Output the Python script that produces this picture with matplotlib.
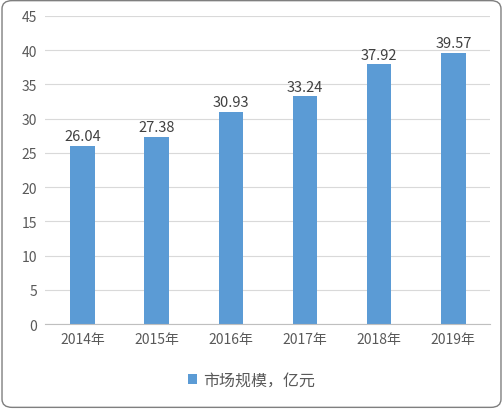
import matplotlib.pyplot as plt
from matplotlib.patches import FancyBboxPatch

plt.rcParams['font.family'] = ['Noto Sans CJK SC', 'DejaVu Sans']

years = ['2014年', '2015年', '2016年', '2017年', '2018年', '2019年']
values = [26.04, 27.38, 30.93, 33.24, 37.92, 39.57]
series_name = '市场规模，亿元'

fig = plt.figure(figsize=(5.03, 4.10), dpi=100)
ax = fig.add_axes([0.09, 0.207, 0.885, 0.752])

ax.bar(range(len(years)), values, width=0.33, color='#5B9BD5', zorder=2, label=series_name)
for i, v in enumerate(values):
    ax.text(i, v + 0.4, f'{v:.2f}', ha='center', va='bottom', fontsize=10.5, color='#404040')

ax.set_ylim(0, 45)
ax.set_yticks(range(0, 46, 5))
ax.set_xlim(-0.5, len(years) - 0.5)
ax.set_xticks(range(len(years)))
ax.set_xticklabels(years)
ax.tick_params(axis='both', length=0, labelsize=10, colors='#595959', pad=6)
ax.grid(axis='y', color='#D9D9D9', lw=0.8, zorder=0)
for s in ['top', 'right', 'left']:
    ax.spines[s].set_visible(False)
ax.spines['bottom'].set_color('#BFBFBF')

fig.legend(loc='lower center', bbox_to_anchor=(0.5, 0.015), frameon=False,
           fontsize=11.5, handlelength=0.6, handleheight=0.6, handletextpad=0.4,
           labelcolor='#595959')

fig.patches.append(FancyBboxPatch((0.004, 0.004), 0.992, 0.992, boxstyle='round,pad=0,rounding_size=0.02',
                                  transform=fig.transFigure, fill=False, ec='#7F7F7F', lw=1))

fig.savefig('out.png', dpi=100)
